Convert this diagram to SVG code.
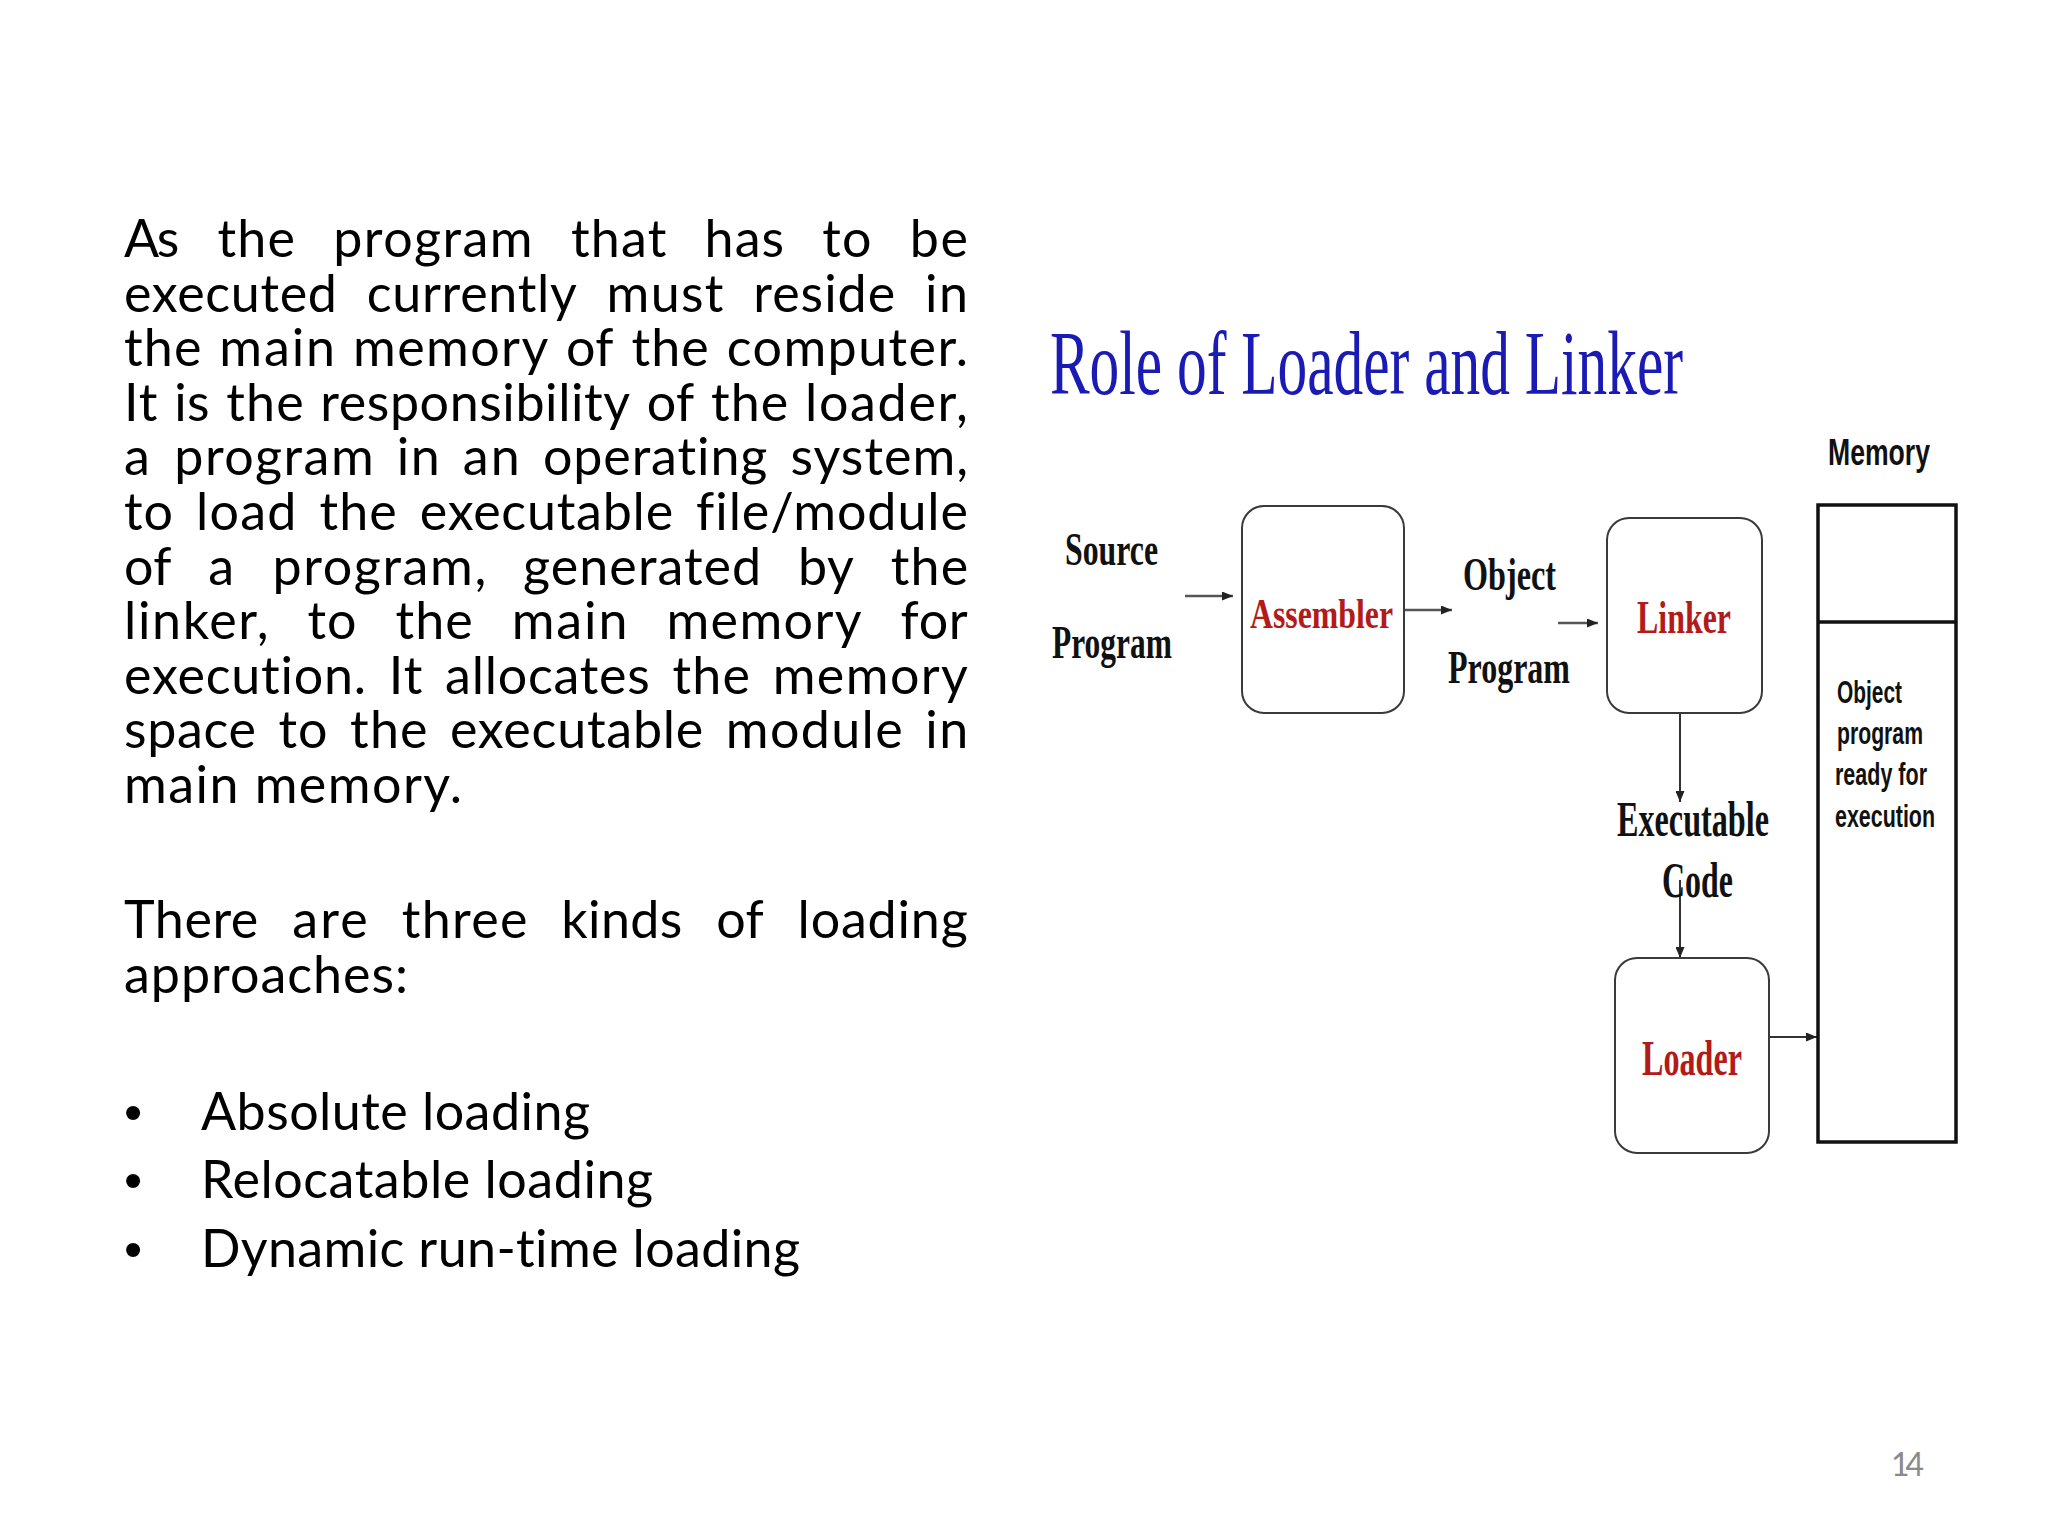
<svg xmlns="http://www.w3.org/2000/svg" width="2048" height="1536" viewBox="0 0 2048 1536">
<style>
.p{font-family:Lato,"Open Sans","Liberation Sans",sans-serif;font-size:52px;fill:#000;font-variant-ligatures:none;font-feature-settings:"liga" 0,"clig" 0}
.t{font-family:"Liberation Serif","Times New Roman",serif;font-weight:bold;fill:#111}
.r{fill:#b31b1b}
.m{font-family:"Liberation Sans",Arial,sans-serif;font-weight:bold;fill:#111}
.box{fill:#fff;stroke:#3a3a3a;stroke-width:2}
.c{fill:none;stroke:#333;stroke-width:2}
.c2{fill:none;stroke:#555;stroke-width:2.6}
</style>
<defs>
<marker id="ah" markerUnits="userSpaceOnUse" markerWidth="11" markerHeight="9" refX="11" refY="4.5" orient="auto">
<path d="M0,0 L11,4.5 L0,9 z" fill="#222"/>
</marker>
</defs>
<rect width="2048" height="1536" fill="#fff"/>

<g id="body-text">
<text class="p" y="257"><tspan x="124" textLength="55.3">As</tspan><tspan x="217.5" textLength="77.4">the</tspan><tspan x="333.2" textLength="199.4">program</tspan><tspan x="570.9" textLength="95.4">that</tspan><tspan x="704.6" textLength="79.5">has</tspan><tspan x="822.3" textLength="49.1">to</tspan><tspan x="909.7" textLength="58.3">be</tspan></text>
<text class="p" y="311.6"><tspan x="124" textLength="212.9">executed</tspan><tspan x="366.7" textLength="210.1">currently</tspan><tspan x="606.6" textLength="116.9">must</tspan><tspan x="753.3" textLength="141.9">reside</tspan><tspan x="925" textLength="43">in</tspan></text>
<text class="p" y="366.2"><tspan x="124" textLength="77.4">the</tspan><tspan x="219.3" textLength="115.8">main</tspan><tspan x="353" textLength="195.2">memory</tspan><tspan x="566.1" textLength="47.4">of</tspan><tspan x="631.4" textLength="77.4">the</tspan><tspan x="726.7" textLength="241.3">computer.</tspan></text>
<text class="p" y="420.8"><tspan x="124" textLength="33.5">It</tspan><tspan x="174.2" textLength="35.3">is</tspan><tspan x="226.2" textLength="77.4">the</tspan><tspan x="320.3" textLength="309.8">responsibility</tspan><tspan x="646.8" textLength="47.4">of</tspan><tspan x="710.9" textLength="77.4">the</tspan><tspan x="805" textLength="162.8">loader,</tspan></text>
<text class="p" y="475.4"><tspan x="124" textLength="27.3">a</tspan><tspan x="174.3" textLength="199.4">program</tspan><tspan x="396.7" textLength="43">in</tspan><tspan x="462.7" textLength="57.2">an</tspan><tspan x="542.9" textLength="224.5">operating</tspan><tspan x="790.4" textLength="177.7">system,</tspan></text>
<text class="p" y="530"><tspan x="124" textLength="49.1">to</tspan><tspan x="196.1" textLength="100.3">load</tspan><tspan x="319.4" textLength="77.4">the</tspan><tspan x="419.8" textLength="253.3">executable</tspan><tspan x="696.1" textLength="271.9">file/module</tspan></text>
<text class="p" y="584.6"><tspan x="124" textLength="47.4">of</tspan><tspan x="208.3" textLength="27.3">a</tspan><tspan x="272.5" textLength="213.7">program,</tspan><tspan x="523.1" textLength="238.1">generated</tspan><tspan x="798.1" textLength="55.7">by</tspan><tspan x="890.7" textLength="77.4">the</tspan></text>
<text class="p" y="639.2"><tspan x="124" textLength="144.5">linker,</tspan><tspan x="307.4" textLength="49.1">to</tspan><tspan x="395.4" textLength="77.4">the</tspan><tspan x="511.7" textLength="115.8">main</tspan><tspan x="666.4" textLength="195.2">memory</tspan><tspan x="900.5" textLength="67.3">for</tspan></text>
<text class="p" y="693.8"><tspan x="124" textLength="242">execution.</tspan><tspan x="388.8" textLength="33.5">It</tspan><tspan x="445.1" textLength="204.6">allocates</tspan><tspan x="672.5" textLength="77.4">the</tspan><tspan x="772.7" textLength="195.2">memory</tspan></text>
<text class="p" y="748.4"><tspan x="124" textLength="132">space</tspan><tspan x="278.5" textLength="49.1">to</tspan><tspan x="350.1" textLength="77.4">the</tspan><tspan x="450" textLength="253.3">executable</tspan><tspan x="725.8" textLength="176.9">module</tspan><tspan x="925.2" textLength="43">in</tspan></text>
<text class="p" x="124" y="803" textLength="338">main memory.</text>

<text class="p" y="938"><tspan x="124" textLength="134.3">There</tspan><tspan x="292.2" textLength="75.6">are</tspan><tspan x="401.7" textLength="125.7">three</tspan><tspan x="561.3" textLength="121.1">kinds</tspan><tspan x="716.3" textLength="47.4">of</tspan><tspan x="797.6" textLength="170.1">loading</tspan></text>
<text class="p" x="124" y="993" textLength="284">approaches:</text>

<text class="p" x="133" y="1130" text-anchor="middle" style="font-family:'Liberation Sans',Arial,sans-serif">•</text>
<text class="p" x="201" y="1130" textLength="389">Absolute loading</text>
<text class="p" x="133" y="1198" text-anchor="middle" style="font-family:'Liberation Sans',Arial,sans-serif">•</text>
<text class="p" x="201" y="1198" textLength="452">Relocatable loading</text>
<text class="p" x="133" y="1267" text-anchor="middle" style="font-family:'Liberation Sans',Arial,sans-serif">•</text>
<text class="p" x="201" y="1267" textLength="599">Dynamic run-time loading</text>
</g>

<g id="title">
<text x="1050" y="394" textLength="633" lengthAdjust="spacingAndGlyphs" style="font-family:'Liberation Serif','Times New Roman',serif;font-size:92px;fill:#1a1ab4">Role of Loader and Linker</text>
</g>

<g id="connectors">
<path class="c2" d="M1185,596 H1233" marker-end="url(#ah)"/>
<path class="c2" d="M1405,610 H1452" marker-end="url(#ah)"/>
<path class="c2" d="M1558,623 H1598" marker-end="url(#ah)"/>
<path class="c" d="M1680,713 V802" marker-end="url(#ah)"/>
<path class="c" d="M1680,880 V958" marker-end="url(#ah)"/>
<path class="c" d="M1769,1037 H1817" marker-end="url(#ah)"/>
</g>

<g id="source-program">
<text class="t" x="1065" y="565" font-size="46" textLength="93" lengthAdjust="spacingAndGlyphs">Source</text>
<text class="t" x="1052" y="658" font-size="46" textLength="120" lengthAdjust="spacingAndGlyphs">Program</text>
</g>

<g id="assembler">
<rect class="box" x="1242" y="506" width="162" height="207" rx="22"/>
<text class="t r" x="1250" y="628" font-size="42" textLength="143" lengthAdjust="spacingAndGlyphs">Assembler</text>
</g>

<g id="object-program">
<text class="t" x="1463" y="590" font-size="46" textLength="93" lengthAdjust="spacingAndGlyphs">Object</text>
<text class="t" x="1448" y="683" font-size="46" textLength="122" lengthAdjust="spacingAndGlyphs">Program</text>
</g>

<g id="linker">
<rect class="box" x="1607" y="518" width="155" height="195" rx="22"/>
<text class="t r" x="1637" y="633" font-size="47" textLength="94" lengthAdjust="spacingAndGlyphs">Linker</text>
</g>

<g id="executable-code">
<text class="t" x="1617" y="836" font-size="50" textLength="152" lengthAdjust="spacingAndGlyphs">Executable</text>
<text class="t" x="1662" y="897" font-size="50" textLength="71" lengthAdjust="spacingAndGlyphs">Code</text>
</g>

<g id="loader">
<rect class="box" x="1615" y="958" width="154" height="195" rx="22"/>
<text class="t r" x="1642" y="1075" font-size="50" textLength="100" lengthAdjust="spacingAndGlyphs">Loader</text>
</g>

<g id="memory">
<text class="m" x="1828" y="465" font-size="36" textLength="102" lengthAdjust="spacingAndGlyphs">Memory</text>
<rect x="1818" y="505" width="138" height="637" fill="#fff" stroke="#111" stroke-width="3.5"/>
<line x1="1818" y1="622" x2="1956" y2="622" stroke="#111" stroke-width="3.5"/>
<text class="m" x="1837" y="703" font-size="32" textLength="65" lengthAdjust="spacingAndGlyphs">Object</text>
<text class="m" x="1837" y="744" font-size="32" textLength="86" lengthAdjust="spacingAndGlyphs">program</text>
<text class="m" x="1835" y="785" font-size="32" textLength="92" lengthAdjust="spacingAndGlyphs">ready for</text>
<text class="m" x="1835" y="827" font-size="32" textLength="100" lengthAdjust="spacingAndGlyphs">execution</text>
</g>

<g id="page-number">
<text x="1891" y="1476" textLength="33" style="font-family:Lato,'Liberation Sans',sans-serif;font-size:32px;fill:#8a8a8a">14</text>
</g>
</svg>
